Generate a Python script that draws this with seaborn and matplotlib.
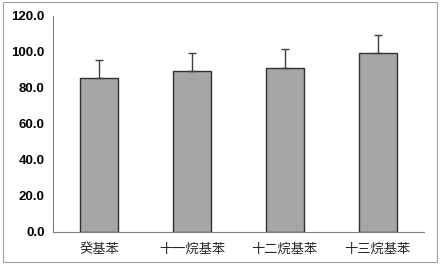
import seaborn as sns
import pandas as pd
import matplotlib.pyplot as plt
from matplotlib.patches import Rectangle

categories = ["癸基苯", "十一烷基苯", "十二烷基苯", "十三烷基苯"]
values = [85.5, 89.5, 91.3, 99.6]
errors = [10.0, 10.0, 10.2, 10.0]
y_ticks = [0, 20, 40, 60, 80, 100, 120]

df = pd.DataFrame({"cat": categories, "val": values})

sns.set_style("white")
plt.rcParams['font.family'] = ['Liberation Sans', 'Noto Sans CJK SC', 'DejaVu Sans']

fig = plt.figure(figsize=(4.41, 2.66), dpi=100)
ax = fig.add_axes([53 / 441, 34 / 266, 371 / 441, 216 / 266])

sns.barplot(data=df, x="cat", y="val", color="#a6a6a6", edgecolor="#303030",
            linewidth=1.0, width=0.41, errorbar=None, saturation=1, ax=ax)
ax.errorbar(range(len(values)), values, yerr=[[0] * len(errors), errors],
            fmt="none", ecolor="#404040", elinewidth=1.0, capsize=3, capthick=1.0,
            zorder=1)

ax.set_ylim(0, 120)
ax.set_xlim(-0.5, len(categories) - 0.5)
ax.set_yticks(y_ticks)
ax.set_yticklabels([f"{v:.1f}" for v in y_ticks], fontsize=9.5, color="black",
                   fontweight="bold")
ax.set_xticks([i - 0.5 for i in range(len(categories) + 1)])
ax.set_xticklabels([""] * (len(categories) + 1))
ax.set_xticks(range(len(categories)), minor=True)
ax.set_xticklabels(categories, minor=True, fontsize=9.5,
                   family=['Noto Sans CJK SC', 'DejaVu Sans'])
ax.tick_params(axis="x", which="minor", length=0, pad=8)
ax.tick_params(axis="x", which="major", length=3, width=0.8, color="#808080", direction="out")
ax.tick_params(axis="y", length=3, width=0.8, color="#808080", direction="out", pad=3)
ax.set_xlabel("")
ax.set_ylabel("")

for side in ["top", "right"]:
    ax.spines[side].set_visible(False)
for side in ["left", "bottom"]:
    ax.spines[side].set_color("#808080")
    ax.spines[side].set_linewidth(0.8)

fig.patches.append(Rectangle((3 / 441, 4 / 266), 434 / 441, 260 / 266, transform=fig.transFigure,
                             fill=False, edgecolor="#a0a0a0", linewidth=0.8))

fig.savefig("out.png", dpi=100)
